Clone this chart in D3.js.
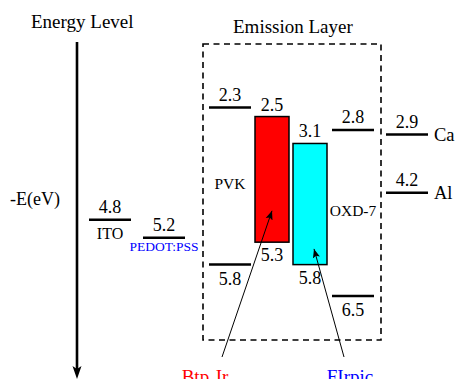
<!DOCTYPE html>
<html>
<head>
<meta charset="utf-8">
<script src="https://cdn.jsdelivr.net/npm/d3@7"></script>
<style>
  body { margin: 0; background: #fff; }
  text { font-family: "Liberation Serif", "Times New Roman", serif; }
</style>
</head>
<body>
<div id="chart"></div>
<script>
// energy levels (eV, shown as -E)
const electrodes = ["ITO", "PEDOT:PSS", "Ca", "Al"];
const electrodeLevels = [4.8, 5.2, 2.9, 4.2];
const hosts = ["PVK", "OXD-7"];
const hostLUMO = [2.3, 2.8];
const hostHOMO = [5.8, 6.5];
const dopants = ["Btp2Ir", "FIrpic"];
const dopantLUMO = [2.5, 3.1];
const dopantHOMO = [5.3, 5.8];
const dopantArrowAt = [4.6, 5.45];

var width = 457, height = 379;
var svg = d3.select("#chart").append("svg")
    .attr("width", width)
    .attr("height", height);

// vertical scale: energy -> pixels (deeper level = lower)
var y = d3.scaleLinear().domain([0, 8]).range([4.4, 363.3]);

// column centers for each layer
var x = d3.scaleOrdinal()
    .domain(["ITO", "PEDOT:PSS", "PVK", "Btp2Ir", "FIrpic", "OXD-7", "Ca", "Al"])
    .range([110, 164, 230, 272, 310, 353, 407, 407]);

var lineW = 42, barW = 34;
var dopantColor = d3.scaleOrdinal().domain(dopants).range(["#ff0000", "#00ffff"]);
var labelColor = d3.scaleOrdinal().domain(dopants).range(["#ff0000", "#0000ff"]);

function num(v) { return d3.format(".1f")(v); }

// titles
svg.append("text").attr("x", 31).attr("y", 28).attr("font-size", 19).text("Energy Level");
svg.append("text").attr("x", 233).attr("y", 33).attr("font-size", 19).text("Emission Layer");
svg.append("text").attr("x", 10).attr("y", 205).attr("font-size", 18).text("-E(eV)");

// energy axis with arrow
svg.append("line")
    .attr("x1", 77).attr("x2", 77).attr("y1", 42).attr("y2", 370)
    .attr("stroke", "#000").attr("stroke-width", 2.6);
svg.append("path")
    .attr("d", "M72.5,366 L77,369 L81.5,366 L77,379 Z")
    .attr("fill", "#000");

// emission layer box
svg.append("rect")
    .attr("x", 203).attr("y", 44).attr("width", 178).attr("height", 296)
    .attr("fill", "none").attr("stroke", "#000").attr("stroke-width", 1.6)
    .attr("stroke-dasharray", "6,4.5");

// level lines helper
function level(cx, v) {
  svg.append("line")
      .attr("x1", cx - lineW / 2).attr("x2", cx + lineW / 2)
      .attr("y1", y(v)).attr("y2", y(v))
      .attr("stroke", "#000").attr("stroke-width", 2.5);
}
function label(cx, yy, t, size, color) {
  return svg.append("text")
      .attr("x", cx).attr("y", yy)
      .attr("text-anchor", "middle")
      .attr("font-size", size)
      .attr("fill", color || "#000")
      .text(t);
}

// electrodes
electrodes.forEach(function(name, i) {
  var cx = x(name), v = electrodeLevels[i];
  level(cx, v);
  label(cx, y(v) - 7, num(v), 18);
  if (name === "Ca" || name === "Al") {
    svg.append("text").attr("x", cx + lineW / 2 + 6).attr("y", y(v) + 6)
        .attr("font-size", 18.5).text(name);
  } else if (name === "ITO") {
    label(cx, y(v) + 19, name, 16);
  } else {
    label(cx, y(v) + 13, name, 13.5, "#0000ff");
  }
});

// hosts
hosts.forEach(function(name, i) {
  var cx = x(name);
  level(cx, hostLUMO[i]);
  level(cx, hostHOMO[i]);
  label(cx, y(hostLUMO[i]) - 7, num(hostLUMO[i]), 18);
  label(cx, y(hostHOMO[i]) + 20, num(hostHOMO[i]), 18);
  label(cx, y((hostLUMO[i] + hostHOMO[i]) / 2) + 3, name, 15.5);
});

// dopant bars
svg.selectAll("rect.dopant")
  .data(dopants)
  .enter().append("rect")
    .attr("class", "dopant")
    .attr("x", function(d) { return x(d) - barW / 2; })
    .attr("y", function(d, i) { return y(dopantLUMO[i]); })
    .attr("width", barW)
    .attr("height", function(d, i) { return y(dopantHOMO[i]) - y(dopantLUMO[i]); })
    .attr("fill", function(d) { return dopantColor(d); })
    .attr("stroke", "#000").attr("stroke-width", 1.5);

dopants.forEach(function(name, i) {
  var cx = x(name);
  label(cx, y(dopantLUMO[i]) - 6, num(dopantLUMO[i]), 18);
  label(cx, y(dopantHOMO[i]) + 19, num(dopantHOMO[i]), 18);
});

// dopant names at the bottom with pointer arrows
var nameX = [205, 350];
var baseX = [222, 344];
var tipDx = [0, 4];
svg.append("defs").append("marker")
    .attr("id", "ah").attr("viewBox", "0 0 10 10")
    .attr("refX", 10).attr("refY", 5)
    .attr("markerWidth", 9).attr("markerHeight", 9)
    .attr("markerUnits", "userSpaceOnUse")
    .attr("orient", "auto")
  .append("path").attr("d", "M0,1 L10,5 L0,9 L2,5 Z").attr("fill", "#000");

dopants.forEach(function(name, i) {
  svg.append("line")
      .attr("x1", baseX[i]).attr("y1", 357)
      .attr("x2", x(name) + tipDx[i]).attr("y2", y(dopantArrowAt[i]))
      .attr("stroke", "#000").attr("stroke-width", 1)
      .attr("marker-end", "url(#ah)");
  var t = label(nameX[i], 383, null, 19, labelColor(name));
  if (name === "Btp2Ir") {
    t.append("tspan").text("Btp");
    t.append("tspan").attr("font-size", 13).attr("dy", 4).text("2");
    t.append("tspan").attr("dy", -4).text("Ir");
  } else {
    t.text(name);
  }
});
</script>
</body>
</html>
